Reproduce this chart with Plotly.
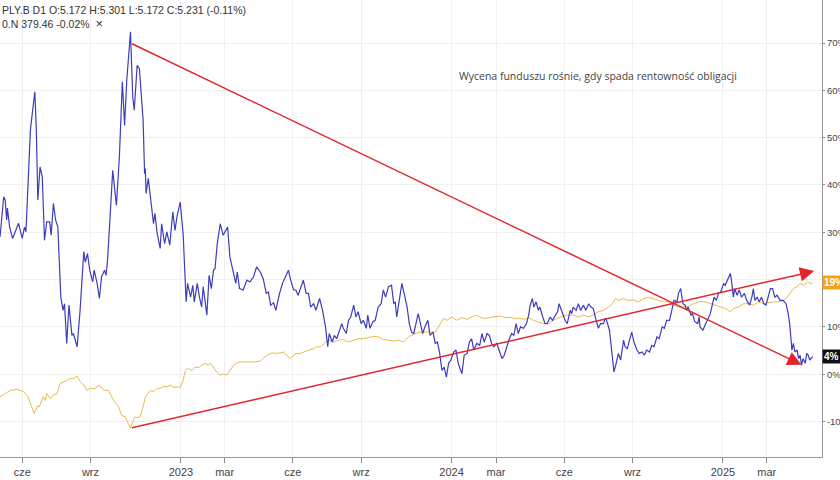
import plotly.graph_objects as go

# ---- data (percent change) ----
fund_dates = [
    "2022-05-02","2022-05-07","2022-05-09","2022-05-11","2022-05-12","2022-05-15","2022-05-19","2022-05-27",
    "2022-06-01","2022-06-04","2022-06-06","2022-06-12","2022-06-14","2022-06-18","2022-06-20","2022-06-22",
    "2022-06-25","2022-06-28","2022-07-01","2022-07-04","2022-07-08","2022-07-10","2022-07-13","2022-07-16",
    "2022-07-19","2022-07-23","2022-07-26","2022-07-28","2022-07-31","2022-08-03","2022-08-07","2022-08-09",
    "2022-08-14","2022-08-18","2022-08-23","2022-08-25","2022-08-28","2022-08-31","2022-09-04","2022-09-06",
    "2022-09-10","2022-09-13","2022-09-16","2022-09-20","2022-09-22","2022-09-24","2022-09-28","2022-10-01",
    "2022-10-06","2022-10-10","2022-10-14","2022-10-17","2022-10-20","2022-10-25","2022-10-28","2022-10-30",
    "2022-11-03","2022-11-06","2022-11-11","2022-11-13","2022-11-14","2022-11-15","2022-11-18","2022-11-22",
    "2022-11-25","2022-11-27","2022-11-30","2022-12-04","2022-12-06","2022-12-10","2022-12-13","2022-12-17",
    "2022-12-21","2022-12-24","2022-12-27","2022-12-31","2023-01-04","2023-01-08","2023-01-10","2023-01-14",
    "2023-01-17","2023-01-19","2023-01-23","2023-01-26","2023-01-29","2023-01-31","2023-02-05","2023-02-08",
    "2023-02-11","2023-02-14","2023-02-16","2023-02-19","2023-02-23","2023-02-27","2023-03-05","2023-03-08",
    "2023-03-13","2023-03-16","2023-03-18","2023-03-21","2023-03-26","2023-03-31","2023-04-04","2023-04-09",
    "2023-04-13","2023-04-18","2023-04-22","2023-04-26","2023-04-29","2023-05-02","2023-05-06","2023-05-09",
    "2023-05-14","2023-05-18","2023-05-22","2023-05-26","2023-05-29","2023-06-02","2023-06-05","2023-06-08",
    "2023-06-12","2023-06-15","2023-06-19","2023-06-22","2023-06-25","2023-06-29","2023-07-02","2023-07-07",
    "2023-07-11","2023-07-15","2023-07-18","2023-07-20","2023-07-24","2023-07-27","2023-07-30","2023-08-02",
    "2023-08-06","2023-08-08","2023-08-12","2023-08-15","2023-08-18","2023-08-22","2023-08-25","2023-08-28",
    "2023-09-01","2023-09-04","2023-09-08","2023-09-10","2023-09-13","2023-09-17","2023-09-20","2023-09-24",
    "2023-09-28","2023-10-01","2023-10-04","2023-10-08","2023-10-12","2023-10-15","2023-10-17","2023-10-19",
    "2023-10-23","2023-10-26","2023-10-29","2023-11-02","2023-11-05","2023-11-08","2023-11-11","2023-11-14",
    "2023-11-17","2023-11-20","2023-11-23","2023-11-26","2023-11-30","2023-12-03","2023-12-07","2023-12-10",
    "2023-12-13","2023-12-16","2023-12-19","2023-12-22","2023-12-25","2023-12-28","2023-12-31","2024-01-04",
    "2024-01-07","2024-01-10","2024-01-15","2024-01-18","2024-01-22","2024-01-25","2024-01-28","2024-01-31",
    "2024-02-04","2024-02-08","2024-02-11","2024-02-14","2024-02-18","2024-02-21","2024-02-24","2024-02-27",
    "2024-03-02","2024-03-06","2024-03-09","2024-03-12","2024-03-16","2024-03-19","2024-03-22","2024-03-25",
    "2024-03-28","2024-03-31","2024-04-03","2024-04-07","2024-04-11","2024-04-14","2024-04-16","2024-04-19",
    "2024-04-21","2024-04-24","2024-04-27","2024-04-29","2024-05-03","2024-05-06","2024-05-09","2024-05-13",
    "2024-05-16","2024-05-20","2024-05-23","2024-05-25","2024-05-30","2024-06-02","2024-06-05","2024-06-09",
    "2024-06-11","2024-06-13","2024-06-17","2024-06-20","2024-06-23","2024-06-27","2024-06-30","2024-07-04",
    "2024-07-07","2024-07-10","2024-07-14","2024-07-17","2024-07-20","2024-07-24","2024-07-26","2024-07-28",
    "2024-08-01","2024-08-04","2024-08-07","2024-08-10","2024-08-13","2024-08-16","2024-08-20","2024-08-22",
    "2024-08-25","2024-08-28","2024-08-31","2024-09-03","2024-09-07","2024-09-10","2024-09-14","2024-09-17",
    "2024-09-20","2024-09-24","2024-09-27","2024-09-30","2024-10-04","2024-10-07","2024-10-11","2024-10-14",
    "2024-10-17","2024-10-21","2024-10-24","2024-10-27","2024-10-31","2024-11-02","2024-11-05","2024-11-08",
    "2024-11-11","2024-11-13","2024-11-15","2024-11-19","2024-11-21","2024-11-24","2024-11-28","2024-11-30",
    "2024-12-01","2024-12-05","2024-12-08","2024-12-11","2024-12-15","2024-12-18","2024-12-20","2024-12-23",
    "2024-12-26","2024-12-29","2025-01-02","2025-01-04","2025-01-07","2025-01-11","2025-01-13","2025-01-15",
    "2025-01-17","2025-01-20","2025-01-23","2025-01-26","2025-01-30","2025-02-02","2025-02-06","2025-02-09",
    "2025-02-11","2025-02-13","2025-02-16","2025-02-19","2025-02-22","2025-02-25","2025-02-28","2025-03-03",
    "2025-03-06","2025-03-09","2025-03-12","2025-03-15","2025-03-19","2025-03-23","2025-03-27","2025-03-30",
    "2025-04-01","2025-04-04","2025-04-06","2025-04-08","2025-04-11","2025-04-13","2025-04-15","2025-04-17",
    "2025-04-19","2025-04-22","2025-04-24","2025-04-26","2025-04-28","2025-05-02",
]
fund_values = [
    29.0,37.5,36.8,32.6,35.1,31.1,28.7,31.9,
    28.7,31.1,30.1,51.6,54.4,59.7,51.6,36.8,
    43.8,41.7,28.3,32.2,32.2,29.4,36.1,32.6,
    31.1,16.3,13.5,14.9,6.5,14.6,8.2,8.6,
    5.8,13.5,25.9,23.7,25.5,22.0,19.5,22.0,
    19.2,16.0,20.6,22.0,20.9,24.1,34.7,43.1,
    35.7,45.9,61.8,52.6,62.2,72.4,58.6,55.8,
    65.3,64.6,53.7,42.4,43.5,38.2,41.4,36.1,
    31.8,34.0,29.7,26.6,31.8,27.6,30.1,27.3,
    34.3,30.4,33.6,36.4,29.7,15.3,19.2,16.3,
    18.8,15.3,19.2,16.3,14.2,18.5,12.5,20.9,
    18.1,22.0,22.3,27.6,31.8,29.4,31.1,24.8,
    21.6,19.2,21.6,18.1,17.8,19.9,19.5,20.6,
    22.7,21.6,20.2,17.1,17.4,14.6,15.1,13.5,
    17.1,19.2,20.6,22.0,19.9,17.8,17.8,16.7,
    18.5,19.9,17.1,17.1,14.2,14.9,13.5,16.0,
    13.5,10.0,5.8,8.6,6.8,8.2,7.5,8.9,
    10.7,9.7,8.6,11.4,12.1,14.6,12.1,13.2,
    10.7,11.4,9.7,12.5,9.7,11.1,11.4,14.2,
    14.9,17.8,16.3,18.5,18.8,14.9,15.3,12.1,
    16.3,19.2,17.1,14.2,10.7,8.9,8.6,10.4,
    12.8,10.7,8.6,10.0,11.4,8.2,8.9,6.5,
    6.8,4.4,0.8,1.5,-0.6,2.3,3.0,4.7,
    5.1,2.3,0.1,4.0,4.4,6.8,7.5,5.1,
    6.5,6.1,8.6,6.8,8.6,8.2,6.5,5.8,
    6.5,4.7,3.3,4.0,6.1,7.5,8.6,8.2,
    10.7,8.6,10.0,9.7,10.7,12.5,14.6,16.0,
    14.2,15.3,13.5,14.2,12.1,10.7,10.7,12.1,
    11.4,12.5,13.2,14.9,12.8,11.4,10.7,13.5,
    12.8,14.2,13.5,14.9,13.5,14.6,13.5,14.9,
    14.2,13.9,11.4,9.7,10.7,10.7,11.8,11.4,
    9.3,5.1,0.5,2.3,4.4,3.0,7.2,5.8,
    5.4,7.2,8.9,6.8,5.1,4.4,4.7,4.0,
    5.1,4.7,6.1,5.8,7.9,7.5,10.0,9.7,
    11.4,11.4,13.5,15.6,15.3,17.1,18.1,14.9,
    14.6,13.5,14.2,12.5,12.8,11.1,10.7,12.1,
    10.0,9.3,10.4,11.4,12.8,14.9,16.3,15.6,
    17.1,17.4,19.2,18.8,19.9,21.3,19.2,16.3,
    18.1,16.7,17.8,16.3,17.1,15.6,14.6,16.3,
    18.1,15.6,16.3,15.3,16.3,14.9,14.6,16.3,
    18.1,18.1,16.3,16.7,15.6,15.6,14.9,12.8,
    10.7,5.1,6.5,4.7,5.1,3.3,4.0,1.9,
    3.3,2.3,4.4,4.0,3.0,3.7,
]

index_dates = [
    "2022-05-02","2022-05-09","2022-05-16","2022-05-25","2022-06-03","2022-06-09","2022-06-14","2022-06-17",
    "2022-06-22","2022-06-24","2022-06-29","2022-07-02","2022-07-04","2022-07-09","2022-07-13","2022-07-18",
    "2022-07-22","2022-07-27","2022-07-31","2022-08-05","2022-08-09","2022-08-14","2022-08-18","2022-08-23",
    "2022-08-27","2022-09-01","2022-09-07","2022-09-13","2022-09-19","2022-09-25","2022-10-02","2022-10-09",
    "2022-10-13","2022-10-18","2022-10-22","2022-10-25","2022-10-28","2022-10-31","2022-11-03","2022-11-07",
    "2022-11-11","2022-11-14","2022-11-17","2022-11-21","2022-11-25","2022-11-30","2022-12-04","2022-12-09",
    "2022-12-13","2022-12-18","2022-12-22","2022-12-27","2022-12-31","2023-01-04","2023-01-07","2023-01-11",
    "2023-01-16","2023-01-20","2023-01-25","2023-01-29","2023-02-03","2023-02-07","2023-02-10","2023-02-14",
    "2023-02-18","2023-02-23","2023-02-27","2023-03-04","2023-03-08","2023-03-13","2023-03-18","2023-03-22",
    "2023-03-29","2023-04-04","2023-04-11","2023-04-18","2023-04-22","2023-04-27","2023-05-04","2023-05-10",
    "2023-05-15","2023-05-19","2023-05-24","2023-05-28","2023-06-02","2023-06-06","2023-06-11","2023-06-15",
    "2023-06-20","2023-06-24","2023-06-29","2023-07-03","2023-07-08","2023-07-11","2023-07-15","2023-07-19",
    "2023-07-26","2023-08-02","2023-08-08","2023-08-15","2023-08-22","2023-08-28","2023-09-04","2023-09-11",
    "2023-09-18","2023-09-24","2023-10-01","2023-10-08","2023-10-15","2023-10-21","2023-10-28","2023-11-04",
    "2023-11-11","2023-11-20","2023-11-26","2023-12-03","2023-12-10","2023-12-17","2023-12-21","2023-12-26",
    "2024-01-01","2024-01-08","2024-01-15","2024-01-22","2024-01-28","2024-02-03","2024-02-09","2024-02-15",
    "2024-02-22","2024-02-29","2024-03-07","2024-03-13","2024-03-20","2024-03-27","2024-04-02","2024-04-09",
    "2024-04-14","2024-04-20","2024-04-27","2024-05-04","2024-05-11","2024-05-17","2024-05-26","2024-06-04",
    "2024-06-13","2024-06-20","2024-06-27","2024-07-04","2024-07-10","2024-07-17","2024-07-24","2024-07-31",
    "2024-08-05","2024-08-09","2024-08-13","2024-08-20","2024-08-26","2024-09-02","2024-09-09","2024-09-16",
    "2024-09-22","2024-09-29","2024-10-06","2024-10-13","2024-10-19","2024-10-26","2024-11-02","2024-11-09",
    "2024-11-15","2024-11-22","2024-12-01","2024-12-08","2024-12-15","2024-12-21","2024-12-28","2025-01-04",
    "2025-01-11","2025-01-15","2025-01-22","2025-01-29","2025-02-04","2025-02-11","2025-02-18","2025-02-25",
    "2025-03-03","2025-03-10","2025-03-17","2025-03-23","2025-03-29","2025-04-02","2025-04-06","2025-04-11",
    "2025-04-15","2025-04-20","2025-04-25","2025-04-29","2025-05-02",
]
index_values = [
    -4.8,-4.1,-3.4,-3.2,-3.7,-4.8,-6.9,-8.3,
    -6.6,-6.9,-4.8,-5.5,-4.1,-5.2,-4.4,-4.1,
    -2.0,-1.6,-1.3,-0.9,-0.9,-0.4,-1.6,-2.3,
    -3.4,-3.0,-3.0,-2.3,-3.4,-3.4,-5.5,-6.9,
    -8.7,-9.0,-10.4,-11.5,-10.1,-9.0,-9.2,-9.0,
    -6.9,-4.8,-4.1,-3.4,-3.7,-3.0,-3.0,-2.5,
    -2.7,-2.3,-2.8,-2.7,-2.8,-1.3,0.8,1.2,
    0.8,1.5,1.4,1.9,2.3,1.9,2.3,1.5,
    0.5,-0.2,0.1,-0.2,0.8,1.9,2.4,2.6,
    2.6,2.6,2.6,2.8,3.3,4.0,4.5,4.4,
    4.5,4.7,4.0,3.3,4.0,4.4,4.4,4.7,
    4.9,5.2,5.4,5.8,5.8,6.1,6.8,7.2,
    6.8,7.2,7.3,6.8,7.2,7.5,7.5,7.7,
    8.0,7.9,7.3,7.2,7.0,7.2,6.8,7.9,
    8.5,8.9,8.9,8.9,8.9,10.7,11.8,11.4,
    12.1,11.4,12.0,11.6,12.0,12.5,12.0,11.8,
    12.0,12.1,12.3,12.0,12.0,11.8,11.8,11.6,
    12.0,11.4,11.1,10.7,10.7,11.4,12.0,12.5,
    12.5,12.1,12.5,12.1,12.5,13.2,13.5,14.2,
    14.9,16.0,15.6,16.0,15.6,15.7,15.3,16.0,
    16.2,16.0,15.6,15.3,15.3,14.6,14.2,14.2,
    14.3,14.9,15.4,15.3,14.9,14.6,14.2,13.9,
    13.2,13.9,14.2,14.9,14.9,14.6,15.3,14.9,
    15.1,15.3,15.3,15.5,16.3,17.1,18.1,18.5,
    19.2,18.8,19.5,19.2,19.3,
]

tick_dates = ["2022-06-01","2022-09-01","2023-01-01","2023-03-01","2023-06-01","2023-09-01",
              "2024-01-01","2024-03-01","2024-06-01","2024-09-01","2025-01-01","2025-03-01"]
tick_labels = ["cze","wrz","2023","mar","cze","wrz","2024","mar","cze","wrz","2025","mar"]

y_ticks = [-10, 0, 10, 20, 30, 40, 50, 60, 70]
# the 20% label sits under the 19% badge in the reference, so it shows no text
y_tick_labels = ["-10%", "0%", "10%", "", "30%", "40%", "50%", "60%", "70%"]

arrow_down = {"from": ("2022-10-25", 70.0), "to": ("2025-04-17", 2.0)}
arrow_up = {"from": ("2022-10-25", -11.4), "to": ("2025-05-04", 21.8)}

note_text = "Wycena funduszu rośnie, gdy spada rentowność obligacji"
header_text = ("PLY.B D1 O:5.172 H:5.301 L:5.172 C:5.231 (-0.11%)<br>"
               "0.N 379.46 -0.02%  <span style='font-size:13px'>×</span>")

BLUE = "#3d3dbd"
GOLD = "#e8ba4c"
RED = "#e0262b"

fig = go.Figure()
fig.add_trace(go.Scatter(x=index_dates, y=index_values, mode="lines",
                         line=dict(color=GOLD, width=1), hoverinfo="skip"))
fig.add_trace(go.Scatter(x=fund_dates, y=fund_values, mode="lines",
                         line=dict(color=BLUE, width=1.2), hoverinfo="skip"))

for arr in (arrow_down, arrow_up):
    fig.add_annotation(x=arr["to"][0], y=arr["to"][1], ax=arr["from"][0], ay=arr["from"][1],
                       xref="x", yref="y", axref="x", ayref="y", text="",
                       showarrow=True, arrowhead=2, arrowsize=1.9, arrowwidth=1.5,
                       arrowcolor=RED, standoff=0)

fig.add_annotation(x=0.7275, y=0.834, xref="paper", yref="paper", text=note_text,
                   showarrow=False, xanchor="center", yanchor="middle",
                   font=dict(family="Open Sans", size=10.5, color="#444444"))

fig.add_annotation(x=0, y=1, xref="paper", yref="paper", text=header_text,
                   showarrow=False, xanchor="left", yanchor="top", align="left", yshift=-2,
                   font=dict(family="Liberation Sans, Arial", size=10.5, color="#333333"))

# last-value badges on the price scale
fig.add_annotation(x=1, y=index_values[-1], xref="paper", yref="y", text="<b>19%</b>",
                   showarrow=False, xanchor="left", yanchor="middle", xshift=0,
                   bgcolor="#f2a21a", font=dict(family="Liberation Sans, Arial", size=10, color="white"),
                   borderpad=1)
fig.add_annotation(x=1, y=fund_values[-1], xref="paper", yref="y", text="<b>4%</b>",
                   showarrow=False, xanchor="left", yanchor="middle", xshift=0,
                   bgcolor="#111111", font=dict(family="Liberation Sans, Arial", size=10, color="white"),
                   borderpad=1)

fig.update_layout(
    width=840, height=480,
    margin=dict(l=0, r=18, t=0, b=23),
    paper_bgcolor="white", plot_bgcolor="white",
    showlegend=False,
    xaxis=dict(range=["2022-05-02", "2025-05-14 14:00"], tickvals=tick_dates, ticktext=tick_labels,
               showgrid=True, gridcolor="#f0f0f0", gridwidth=1,
               ticks="outside", ticklen=5, tickcolor="#888888",
               showline=True, linecolor="#999999", linewidth=1,
               tickfont=dict(family="Liberation Sans, Arial", size=11, color="#444444"),
               zeroline=False, automargin=False),
    yaxis=dict(range=[-17.5, 79.1], side="right", tickvals=y_ticks, ticktext=y_tick_labels,
               showgrid=True, gridcolor="#f0f0f0", gridwidth=1,
               ticks="outside", ticklen=2, tickcolor="#888888",
               showline=True, linecolor="#999999", linewidth=1,
               tickfont=dict(family="Liberation Sans, Arial", size=9.5, color="#444444"),
               zeroline=False, automargin=False),
)

fig.write_html("out.html")
